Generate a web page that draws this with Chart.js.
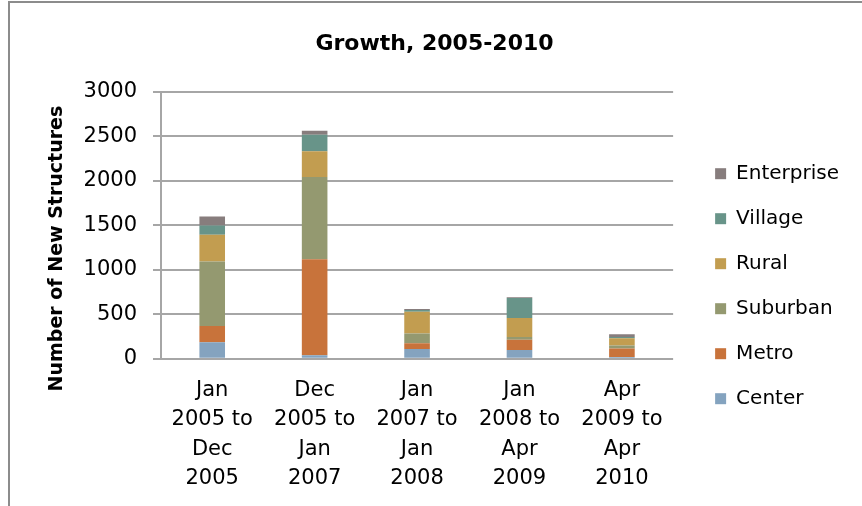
<!DOCTYPE html>
<html>
<head>
<meta charset="utf-8">
<script src="https://cdn.jsdelivr.net/npm/chart.js@4/dist/chart.umd.min.js"></script>
<style>
  html, body { margin: 0; padding: 0; background: #fff; }
  #wrap { width: 862px; height: 506px; }
</style>
</head>
<body>
<div id="wrap"><canvas id="growthChart" width="862" height="506"></canvas></div>
<script>
// Period labels, split over several lines like the axis shows them
const periods = [
  ["Jan", "2005 to", "Dec", "2005"],
  ["Dec", "2005 to", "Jan", "2007"],
  ["Jan", "2007 to", "Jan", "2008"],
  ["Jan", "2008 to", "Apr", "2009"],
  ["Apr", "2009 to", "Apr", "2010"],
];

// New structures per area type (stacked bottom to top)
const center     = [185, 40, 110, 100, 20];
const metro      = [185, 1080, 65, 115, 95];
const suburban   = [725, 925, 110, 30, 35];
const rural      = [300, 290, 245, 215, 80];
const village    = [105, 185, 20, 225, 15];
const enterprise = [100, 45, 10, 8, 30];

const yTicks = [0, 500, 1000, 1500, 2000, 2500, 3000];

const FONT = "'DejaVu Sans', sans-serif";
Chart.defaults.font.family = FONT;
Chart.defaults.font.size = 21;
Chart.defaults.color = "#000";

const gridGrey = "#a6a6a6";

// thin frame along the top and left edge of the chart box
const frame = {
  id: "frame",
  beforeDraw(chart) {
    const ctx = chart.ctx;
    ctx.save();
    ctx.strokeStyle = "#8c8c8c";
    ctx.lineWidth = 2;
    ctx.beginPath();
    ctx.moveTo(9, 506);
    ctx.lineTo(9, 2);
    ctx.lineTo(862, 2);
    ctx.stroke();
    ctx.restore();
  },
};

function series(label, data, color) {
  return {
    label: label,
    data: data,
    backgroundColor: color,
    borderWidth: 0,
    barPercentage: 1,
    categoryPercentage: 0.25,
  };
}

new Chart(document.getElementById("growthChart"), {
  type: "bar",
  data: {
    labels: periods,
    datasets: [
      series("Center", center, "#84a3bf"),
      series("Metro", metro, "#c8733b"),
      series("Suburban", suburban, "#949970"),
      series("Rural", rural, "#c29d50"),
      series("Village", village, "#689489"),
      series("Enterprise", enterprise, "#877d7d"),
    ],
  },
  options: {
    responsive: false,
    animation: false,
    layout: {
      padding: { left: 20, right: 13, top: 0, bottom: -4 },
    },
    plugins: {
      tooltip: { enabled: false },
      title: {
        display: true,
        text: "Growth, 2005-2010",
        font: { size: 22, weight: "bold" },
        padding: { top: 31, bottom: 34.6 },
      },
      legend: {
        position: "right",
        align: "start",
        reverse: true,
        maxWidth: 300,
        title: { display: true, text: "", padding: { top: 113.5, bottom: 0 } },
        labels: {
          boxWidth: 11,
          boxHeight: 11,
          padding: 25,
          font: { size: 20 },
        },
      },
    },
    scales: {
      x: {
        stacked: true,
        grid: { display: false, drawTicks: false },
        border: { display: false },
        ticks: { padding: 17, maxRotation: 0, autoSkip: false, font: { size: 21, lineHeight: 1.395 } },
      },
      y: {
        stacked: true,
        min: 0,
        max: 3000,
        afterBuildTicks(scale) {
          scale.ticks = yTicks.map(v => ({ value: v }));
        },
        afterFit(scale) {
          scale.width = 141;
        },
        grid: { color: gridGrey, lineWidth: 2, tickLength: 8 },
        border: { display: true, color: gridGrey, width: 2 },
        ticks: { padding: 16, font: { size: 21 }, callback: v => String(v) },
        title: {
          display: true,
          // trailing spaces push the rotated title a little lower
          text: "Number of New Structures       ",
          font: { size: 19, weight: "bold" },
          padding: { top: 26, bottom: 0 },
        },
      },
      // empty strip between the plot and the legend
      gap: {
        position: "right",
        display: true,
        grid: { display: false },
        border: { display: false },
        ticks: { display: false },
        afterFit(scale) {
          scale.width = 17;
        },
      },
    },
  },
  plugins: [frame],
});
</script>
</body>
</html>
